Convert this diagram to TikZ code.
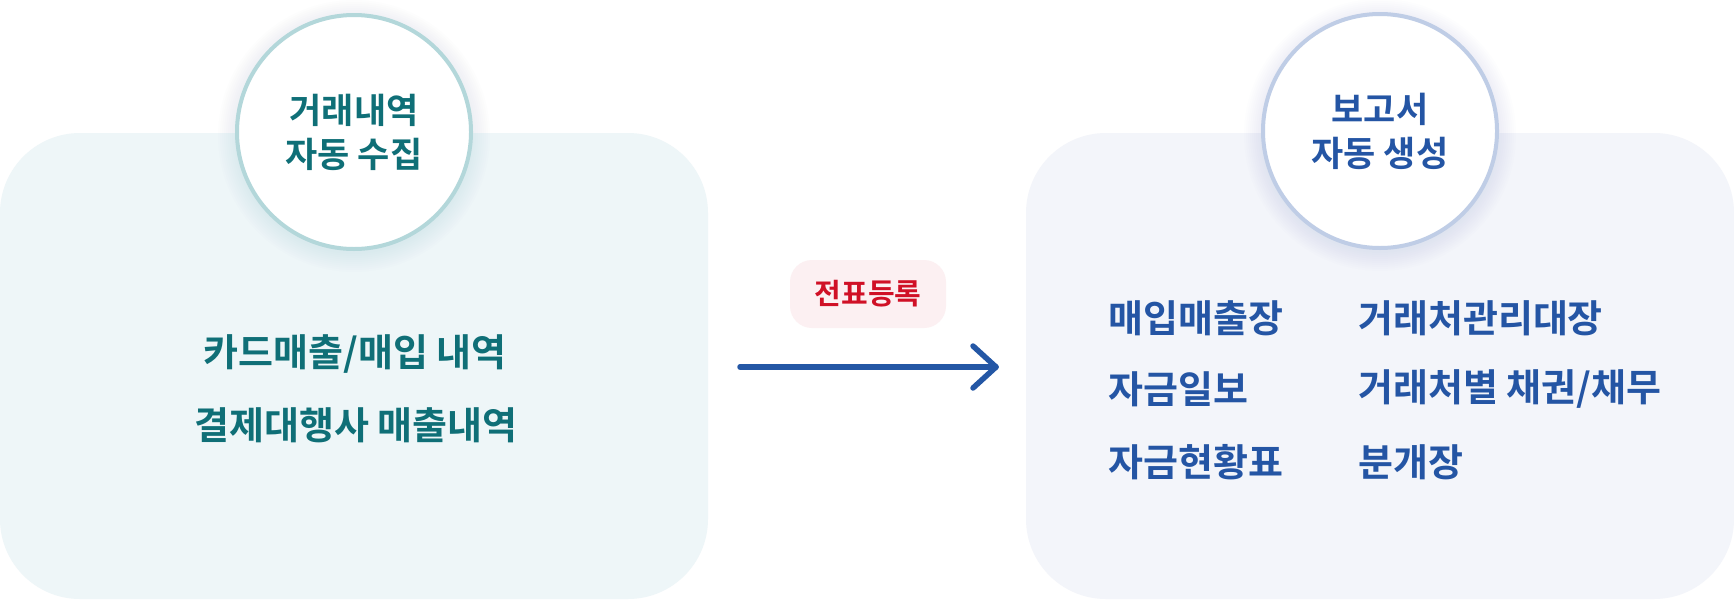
\documentclass[tikz,border=0pt]{standalone}
\usepackage{fontspec}
\newfontfamily\kr{Noto Sans CJK KR}[BoldFont={Noto Sans CJK KR Bold}]
\definecolor{tealtxt}{HTML}{0F6F77}
\definecolor{leftbg}{HTML}{EEF6F8}
\definecolor{leftring}{HTML}{B3D7DA}
\definecolor{leftshadow}{HTML}{5E9EA6}
\definecolor{rightbg}{HTML}{F3F5FA}
\definecolor{rightring}{HTML}{BFCDE6}
\definecolor{rightshadow}{HTML}{7E93C6}
\definecolor{bluetxt}{HTML}{2455A4}
\definecolor{arrowblue}{HTML}{2457A5}
\definecolor{badgebg}{HTML}{FCF0F2}
\definecolor{badgetxt}{HTML}{D01026}
\tikzset{
  panel/.style={rounded corners=80pt},
  ring/.style={circle, fill=white, line width=4pt, minimum size=234pt, inner sep=0pt, align=center,
     font=\kr\bfseries\fontsize{35}{44}\selectfont},
  bodytxt/.style={font=\kr\bfseries\fontsize{38}{38}\selectfont, inner sep=0pt},
  listtxt/.style={font=\kr\bfseries\fontsize{38}{38}\selectfont, inner sep=0pt, anchor=west, text=bluetxt},
}
\begin{document}
\begin{tikzpicture}[x=1pt,y=-1pt]
\useasboundingbox (0,0) rectangle (1734,600);
\fill[white] (0,0) rectangle (1734,600);
% panels
\fill[leftbg,panel] (0,133) rectangle (708,599);
\fill[rightbg,panel] (1026,133) rectangle (1734,599);
% soft shadows
\foreach \r in {118,120,...,136}{
  \fill[leftshadow, opacity=0.013] (354,136) circle[radius=\r pt];
  \fill[rightshadow, opacity=0.013] (1380,135) circle[radius=\r pt];
}
% circles
\node[ring, draw=leftring, text=tealtxt] (c1) at (354,132) {거래내역\\자동 수집};
\node[ring, draw=rightring, text=bluetxt] (c2) at (1380,131) {보고서\\자동 생성};
% left body text
\node[bodytxt, text=tealtxt] (l1) at (355,354) {카드매출/매입 내역};
\node[bodytxt, text=tealtxt] (l2) at (356,425) {결제대행사 매출내역};
% badge
\node[fill=badgebg, rounded corners=22pt, minimum width=156pt, minimum height=68pt, inner sep=0pt,
  text=badgetxt, font=\kr\bfseries\fontsize{29}{29}\selectfont] (b) at (868,294) {전표등록};
% arrow
\coordinate (a0) at (740,367);
\coordinate (a1) at (996,367);
\draw[arrowblue, line width=5.5pt, line cap=round, line join=round] (a0) -- (a1);
\draw[arrowblue, line width=5.5pt, line cap=round, line join=round] ([shift={(-23,-21)}]a1) -- (a1) -- ([shift={(-23,21)}]a1);
% right list
\node[listtxt] (r1) at (1108,318) {매입매출장};
\node[listtxt] (r2) at (1108,389) {자금일보};
\node[listtxt] (r3) at (1108,462) {자금현황표};
\node[listtxt] (r4) at (1358,318) {거래처관리대장};
\node[listtxt] (r5) at (1358,389) {거래처별 채권/채무};
\node[listtxt] (r6) at (1358,462) {분개장};
\end{tikzpicture}
\end{document}
